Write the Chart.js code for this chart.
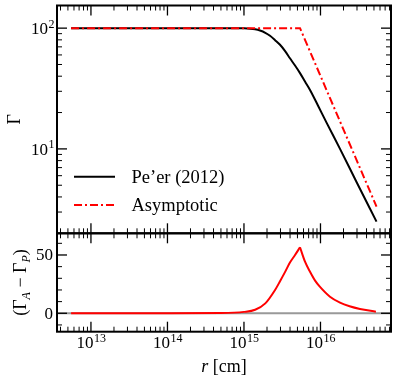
<!DOCTYPE html>
<html>
<head>
<meta charset="utf-8">
<title>Lorentz factor vs radius</title>
<script src="https://cdn.jsdelivr.net/npm/chart.js@4/dist/chart.umd.min.js"></script>
<style>
  body { margin: 0; background: #fff; }
  #wrap { position: relative; width: 398px; height: 384px; }
  canvas { position: absolute; left: 0; }
</style>
</head>
<body>
<div id="wrap">
  <canvas id="top" width="398" height="240" style="top:0"></canvas>
  <canvas id="bottom" width="398" height="158" style="top:226px"></canvas>
</div>
<script>
// values
var seriesLabels = ['Pe\u2019er (2012)', 'Asymptotic'];
var rPeer = [5.5e12, 1e14, 6e14, 1e15, 1.2e15, 1.4e15, 1.62e15, 1.9e15, 2.19e15, 2.55e15, 2.96e15, 3.45e15, 3.99e15,
             4.65e15, 5.4e15, 6.3e15, 7.3e15, 9.3e15, 1.2e16, 1.8e16, 2.97e16, 5.4e16];
var gammaPeer = [100, 100, 99.9, 99.6, 99, 97.8, 95.5, 91.5, 86.4, 79.5, 72.8, 64.5, 56.3,
                 49, 42.4, 36, 30.8, 22.8, 16.5, 10, 5.3, 2.5];
var rAsym = [5.5e12, 5.4e15, 5.4e16];
var gammaAsym = [100, 100, 3.33];
var rDiff = [5.5e12, 1e14, 5e14, 1e15, 1.4e15, 1.9e15, 2.55e15, 2.96e15, 3.45e15, 3.99e15, 4.65e15, 5.4e15,
             6.3e15, 7.3e15, 8.5e15, 9.8e15, 1.33e16, 1.8e16, 2.4e16, 3.28e16, 5.3e16];
var gammaDiff = [0, 0, 0.2, 1.2, 3, 8.5, 20, 27.5, 35.5, 43.5, 50, 56.6,
                 44, 35.6, 28, 22.8, 14.2, 9.1, 6, 3.7, 1.4];
var xTickPowers = [13, 14, 15, 16];
var yTopTickPowers = [1, 2];
var yBottomTicks = [0, 50];

var xMin = 3.6e12, xMax = 8.35e16;
var FONT = '"Liberation Serif", "DejaVu Serif", serif';

function pts(xs, ys) {
    return xs.map(function (x, i) { return {x: x, y: ys[i]}; });
}

function line(ctx, x1, y1, x2, y2, w) {
    ctx.lineWidth = w;
    ctx.beginPath();
    ctx.moveTo(x1, y1);
    ctx.lineTo(x2, y2);
    ctx.stroke();
}

// "10" with a raised exponent
function drawPow(ctx, exp, x, y, align) {
    ctx.font = '17px ' + FONT;
    var wb = ctx.measureText('10').width;
    ctx.font = '12px ' + FONT;
    var we = ctx.measureText(String(exp)).width;
    var x0 = align === 'center' ? x - (wb + we) / 2 : x - wb - we;
    ctx.textAlign = 'left';
    ctx.textBaseline = 'alphabetic';
    ctx.font = '17px ' + FONT;
    ctx.fillText('10', x0, y);
    ctx.font = '12px ' + FONT;
    ctx.fillText(String(exp), x0 + wb + 0.5, y - 6.5);
}

// draw a row of text pieces centred on 0
function drawPieces(ctx, pieces, y) {
    var w = 0;
    pieces.forEach(function (p) { ctx.font = p.f; p.w = ctx.measureText(p.t).width; w += p.w; });
    var x = -w / 2;
    ctx.textAlign = 'left';
    ctx.textBaseline = 'alphabetic';
    pieces.forEach(function (p) {
        ctx.font = p.f;
        ctx.fillText(p.t, x, y + (p.dy || 0));
        x += p.w;
    });
}

var framePlugin = {
    id: 'frame',
    afterDraw: function (chart) {
        var ctx = chart.ctx, a = chart.chartArea;
        var xs = chart.scales.x, ys = chart.scales.y;
        var isTop = chart.canvas.id === 'top';
        ctx.save();
        ctx.strokeStyle = '#000';
        ctx.fillStyle = '#000';

        // inward ticks on x (both edges)
        for (var e = 12; e <= 16; e++) {
            for (var m = 1; m <= 9; m++) {
                var v = m * Math.pow(10, e);
                if (v < xs.min || v > xs.max) continue;
                var px = xs.getPixelForValue(v);
                var len = m === 1 ? 10 : 5, lw = m === 1 ? 1.3 : 1;
                line(ctx, px, a.top, px, a.top + len, lw);
                line(ctx, px, a.bottom, px, a.bottom - len, lw);
            }
        }
        // inward ticks on y (both edges)
        var yTicks = [];
        if (isTop) {
            for (var e2 = 0; e2 <= 2; e2++) {
                for (var m2 = 1; m2 <= 9; m2++) {
                    yTicks.push({v: m2 * Math.pow(10, e2), major: m2 === 1});
                }
            }
        } else {
            for (var t = -10; t <= 60; t += 10) yTicks.push({v: t, major: t % 50 === 0});
        }
        yTicks.forEach(function (tk) {
            if (tk.v < ys.min || tk.v > ys.max) return;
            var py = ys.getPixelForValue(tk.v);
            var len = tk.major ? 10 : 5, lw = tk.major ? 1.3 : 1;
            line(ctx, a.left, py, a.left + len, py, lw);
            line(ctx, a.right, py, a.right - len, py, lw);
        });

        ctx.lineWidth = 2;
        ctx.strokeRect(a.left, a.top, a.right - a.left, a.bottom - a.top);

        var cy = (a.top + a.bottom) / 2;
        if (isTop) {
            yTopTickPowers.forEach(function (p) {
                drawPow(ctx, p, a.left - 3, ys.getPixelForValue(Math.pow(10, p)) + 6, 'right');
            });
            ctx.save();
            ctx.translate(14, cy);
            ctx.rotate(-Math.PI / 2);
            drawPieces(ctx, [{t: '\u0393', f: '18px ' + FONT}], 6);
            ctx.restore();

            // legend
            var ds = chart.data.datasets;
            var rows = [176.7, 205];
            ds.forEach(function (d, i) {
                ctx.save();
                ctx.strokeStyle = d.borderColor;
                ctx.setLineDash(d.borderDash || []);
                line(ctx, 74, rows[i], 115, rows[i], d.borderWidth);
                ctx.restore();
                ctx.font = '18.5px ' + FONT;
                ctx.textAlign = 'left';
                ctx.textBaseline = 'middle';
                ctx.fillText(d.label, 131.5, rows[i] + 1);
            });
        } else {
            ctx.font = '17px ' + FONT;
            ctx.textAlign = 'right';
            ctx.textBaseline = 'middle';
            yBottomTicks.forEach(function (v) {
                ctx.fillText(String(v), a.left - 4, ys.getPixelForValue(v) + 1);
            });
            xTickPowers.forEach(function (p) {
                drawPow(ctx, p, xs.getPixelForValue(Math.pow(10, p)), a.bottom + 16.5, 'center');
            });
            ctx.save();
            ctx.translate((a.left + a.right) / 2, a.bottom + 40);
            drawPieces(ctx, [
                {t: 'r', f: 'italic 18px ' + FONT},
                {t: ' [cm]', f: '18px ' + FONT}
            ], 0);
            ctx.restore();

            ctx.save();
            ctx.translate(20, cy);
            ctx.rotate(-Math.PI / 2);
            drawPieces(ctx, [
                {t: '(\u0393', f: '18px ' + FONT},
                {t: 'A', f: 'italic 12px ' + FONT, dy: 4},
                {t: ' \u2212 \u0393', f: '18px ' + FONT},
                {t: 'P', f: 'italic 12px ' + FONT, dy: 4},
                {t: ')', f: '18px ' + FONT}
            ], 6);
            ctx.restore();
        }
        ctx.restore();
    }
};

function zeroW(s) { s.width = 0; }
function zeroH(s) { s.height = 0; }

function hiddenScale(type, min, max, fit) {
    return {
        type: type, min: min, max: max,
        grid: {display: false, drawTicks: false},
        border: {display: false},
        ticks: {display: false},
        afterFit: fit
    };
}

var common = {
    responsive: false,
    animation: false,
    devicePixelRatio: 1,
    plugins: {legend: {display: false}, tooltip: {enabled: false}},
    elements: {point: {radius: 0}}
};

new Chart(document.getElementById('top'), {
    type: 'line',
    data: {
        datasets: [
            {label: seriesLabels[0], data: pts(rPeer, gammaPeer), borderColor: '#000', borderWidth: 2,
             cubicInterpolationMode: 'monotone', order: 1},
            {label: seriesLabels[1], data: pts(rAsym, gammaAsym), borderColor: '#ff0000', borderWidth: 2,
             borderDash: [8, 3, 2, 3], tension: 0, order: 0}
        ]
    },
    options: Object.assign({}, common, {
        layout: {padding: {left: 57, right: 7, top: 5.5, bottom: 6.7}},
        scales: {
            x: hiddenScale('logarithmic', xMin, xMax, zeroH),
            y: hiddenScale('logarithmic', 2.0, 154, zeroW)
        }
    }),
    plugins: [framePlugin]
});

// split the difference curve at its cusp so each side is smoothed on its own
var iPeak = gammaDiff.indexOf(Math.max.apply(null, gammaDiff));
new Chart(document.getElementById('bottom'), {
    type: 'line',
    data: {
        datasets: [
            {label: 'rise', data: pts(rDiff.slice(0, iPeak + 1), gammaDiff.slice(0, iPeak + 1)),
             borderColor: '#ff0000', borderWidth: 2, cubicInterpolationMode: 'monotone', order: 0},
            {label: 'fall', data: pts(rDiff.slice(iPeak), gammaDiff.slice(iPeak)),
             borderColor: '#ff0000', borderWidth: 2, cubicInterpolationMode: 'monotone', order: 0},
            {label: 'zero', data: pts([xMin, xMax], [0, 0]), borderColor: '#999999', borderWidth: 2,
             tension: 0, order: 1}
        ]
    },
    options: Object.assign({}, common, {
        layout: {padding: {left: 57, right: 7, top: 7.3, bottom: 52.3}},
        scales: {
            x: hiddenScale('logarithmic', xMin, xMax, zeroH),
            y: hiddenScale('linear', -15.8, 68.6, zeroW)
        }
    }),
    plugins: [framePlugin]
});
</script>
</body>
</html>
